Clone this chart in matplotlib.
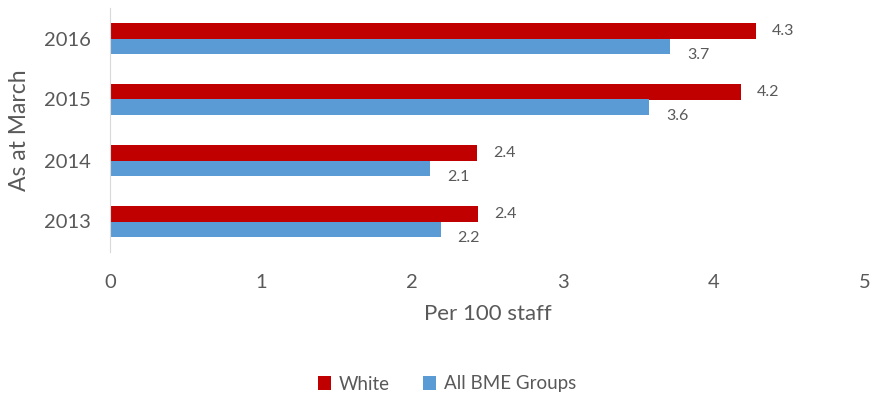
import numpy as np
import matplotlib
matplotlib.use("Agg")
import matplotlib.pyplot as plt

years = ["2013", "2014", "2015", "2016"]
white = [2.44, 2.43, 4.18, 4.28]
bme = [2.19, 2.12, 3.57, 3.71]

red = "#C00000"
blue = "#5B9BD5"
grey = "#595959"

plt.rcParams['font.family'] = ['Lato', 'DejaVu Sans']

fig = plt.figure(figsize=(8.74, 3.96), dpi=100)
ax = fig.add_axes([110/874, 1-252/396, (865-110)/874, 244/396])

y = np.arange(len(years))
h = 0.262
ax.barh(y + h/2, white, height=h, color=red, label="White")
ax.barh(y - h/2, bme, height=h, color=blue, label="All BME Groups")

# value labels, Excel style
for yi, v in zip(y, white):
    ax.annotate(f"{v:.1f}", (v, yi + h/2), xytext=(16, 0), textcoords="offset pixels",
                va="center", ha="left", fontsize=11.5, color=grey)
for yi, v in zip(y, bme):
    ax.annotate(f"{v:.1f}", (v, yi - h/2), xytext=(17, -9), textcoords="offset pixels",
                va="center", ha="left", fontsize=11.5, color=grey)

ax.set_xlim(0, 5)
ax.set_ylim(-0.5, 3.5)
ax.set_yticks(y)
ax.set_yticklabels(years)
ax.set_xticks(range(6))
ax.tick_params(axis="both", length=0, labelsize=14.5, colors=grey)
ax.tick_params(axis="x", pad=16)
ax.tick_params(axis="y", pad=14)

for s in ["top", "right", "bottom"]:
    ax.spines[s].set_visible(False)
ax.spines["left"].set_color("#d9d9d9")

ax.set_xlabel("Per 100 staff", fontsize=16, color=grey, labelpad=9)
ax.set_ylabel("As at March", fontsize=16.5, color=grey, labelpad=10)

fig.legend(loc="center", bbox_to_anchor=(447/874, 1-384/396), ncol=2, frameon=False,
           fontsize=13.5, labelcolor=grey, handlelength=0.7, handleheight=0.7,
           handletextpad=0.4, columnspacing=1.8)

fig.savefig("out.png", dpi=100)
